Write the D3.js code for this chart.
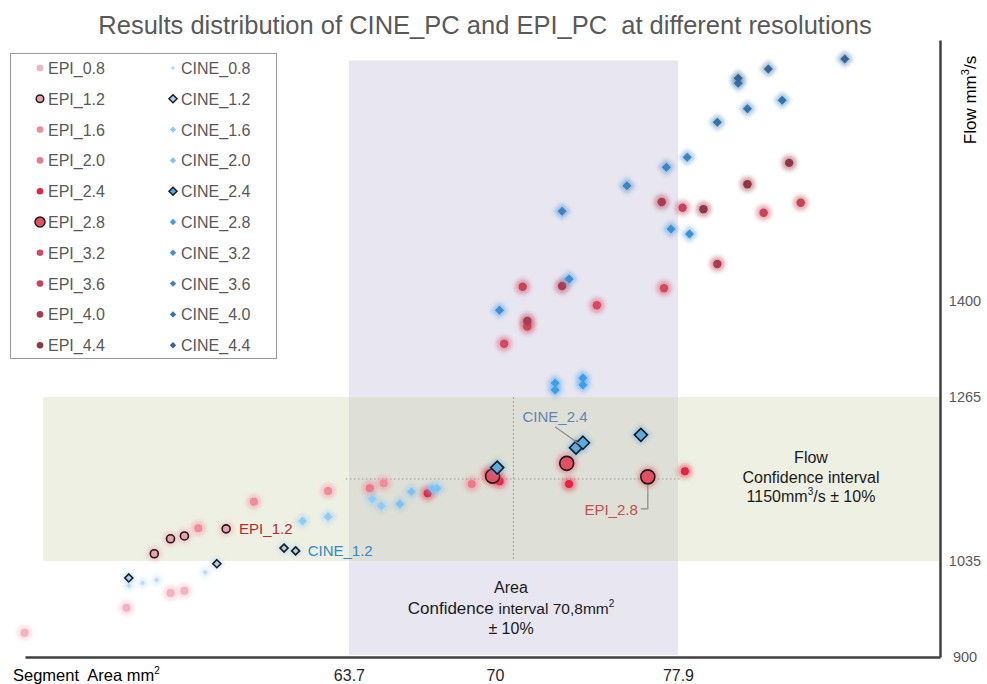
<!DOCTYPE html>
<html><head><meta charset="utf-8">
<script src="https://cdn.jsdelivr.net/npm/d3@7"></script>
<style>
body{margin:0;background:#fff;}
text{font-family:"Liberation Sans",Arial,sans-serif;}
</style></head>
<body><svg id="c" width="987" height="684"></svg>
<script>
// ---------- data ----------
const epiNames  = ["EPI_0.8","EPI_1.2","EPI_1.6","EPI_2.0","EPI_2.4","EPI_2.8","EPI_3.2","EPI_3.6","EPI_4.0","EPI_4.4"];
const cineNames = ["CINE_0.8","CINE_1.2","CINE_1.6","CINE_2.0","CINE_2.4","CINE_2.8","CINE_3.2","CINE_3.6","CINE_4.0","CINE_4.4"];

const epi08 = [[49.7,934],[54.1,969],[56.0,990],[56.6,993]];
const epi12 = [[55.3,1045],[56.0,1066],[56.6,1070],[58.4,1080]];
const epi16 = [[57.2,1081],[59.6,1118],[62.8,1133],[65.2,1144]];
const epi20 = [[64.6,1137],[69.0,1143],[69.7,1158]];
const epi24 = [[67.1,1130],[70.2,1147],[73.2,1143],[78.2,1161]];
const epi28 = [[69.9,1154],[73.1,1172],[76.6,1153]];
const epi32 = [[70.4,1340],[71.4,1364],[74.4,1394],[77.3,1418]];
const epi36 = [[78.1,1531],[81.6,1524],[83.2,1538],[71.2,1420]];
const epi40 = [[77.2,1539],[72.9,1421],[71.4,1372],[79.6,1452]];
const epi44 = [[79.0,1529],[80.9,1564],[82.7,1594]];

const cine08 = [[54.2,1000],[54.8,1004],[55.4,1008],[57.5,1019]];
const cine12 = [[54.2,1011],[58.0,1031],[60.9,1053],[61.4,1049]];
const cine16 = [[61.7,1091],[62.8,1097],[64.7,1122],[65.1,1112]];
const cine20 = [[65.9,1115],[66.4,1132],[67.3,1136],[67.5,1137]];
const cine24 = [[70.1,1166],[73.5,1194],[73.8,1201],[76.3,1212]];
const cine28 = [[72.6,1285],[72.6,1275],[73.8,1292],[73.8,1282]];
const cine32 = [[70.2,1387],[73.2,1431],[77.6,1501],[78.4,1494]];
const cine36 = [[72.9,1526],[75.7,1562],[77.4,1588],[78.3,1602]];
const cine40 = [[79.6,1651],[80.9,1670],[82.4,1682],[80.5,1706]];
const cine44 = [[80.5,1713],[81.8,1726],[85.1,1740]];

const epiData  = [epi08,epi12,epi16,epi20,epi24,epi28,epi32,epi36,epi40,epi44];
const cineData = [cine08,cine12,cine16,cine20,cine24,cine28,cine32,cine36,cine40,cine44];

const xTicks = [63.7, 70, 77.9];
const yTicks = [900, 1035, 1265, 1400];
const areaCenter = 70.8, areaLo = 63.7, areaHi = 77.9;
const flowCenter = 1150, flowLo = 1035, flowHi = 1265;

// ---------- styles ----------
const epiColors  = ["#f5b1be","#f29fad","#f28b9b","#ef7888","#e8213f","#e64f62","#d8475f","#c84358","#ae3a50","#963444"];
const cineColors = ["#b8ddf8","#a6d3f4","#8ecbf6","#7cc2f2","#58ace6","#3aa0ec","#3991da","#3784c6","#2f74ae","#33659a"];
const epiR   = [4,4,4,4,4,7,4.2,4.2,4.2,4.2];
const cineR  = [2.5,4,4.3,4.3,6.5,4.5,4.5,4.5,4.5,4.5];
const outlined = [false,true,false,false,false,true,false,false,false,false];
const cineOutlined = [false,true,false,false,true,false,false,false,false,false];

const svg = d3.select("#c");
const x = d3.scaleLinear().domain([49.72, 89.21]).range([25, 940]);
const y = d3.scaleLinear().domain([900, 1766.6]).range([657, 40]);

const defs = svg.append("defs");
const f = defs.append("filter").attr("id","blur").attr("x","-100%").attr("y","-100%").attr("width","300%").attr("height","300%");
f.append("feGaussianBlur").attr("stdDeviation",2);

// bands
const bandTop = 1738, bandLeft = 50.5;
svg.append("rect").attr("x",x(areaLo)).attr("y",y(bandTop)).attr("width",x(areaHi)-x(areaLo)).attr("height",y(900)-y(bandTop)-2).attr("fill","#e8e6f0");
svg.append("rect").attr("x",x(bandLeft)).attr("y",y(flowHi)).attr("width",x.range()[1]-x(bandLeft)).attr("height",y(flowLo)-y(flowHi)).attr("fill","#eef0e3");
svg.append("rect").attr("x",x(areaLo)).attr("y",y(flowHi)).attr("width",x(areaHi)-x(areaLo)).attr("height",y(flowLo)-y(flowHi)).attr("fill","#dedfd6");

// dotted guide lines
svg.append("line").attr("x1",x(areaLo)-3).attr("x2",x(areaHi)+2).attr("y1",y(flowCenter)).attr("y2",y(flowCenter))
  .attr("stroke","#9a9a9a").attr("stroke-width",1.2).attr("stroke-dasharray","1.5,2.5");
svg.append("line").attr("x1",x(areaCenter)).attr("x2",x(areaCenter)).attr("y1",y(flowHi)).attr("y2",y(flowLo))
  .attr("stroke","#9a9a9a").attr("stroke-width",1.2).attr("stroke-dasharray","1.5,2.5");

// axes
const gx = svg.append("g").attr("transform","translate(0,657)")
  .call(d3.axisBottom(x).tickValues(xTicks).tickSize(0).tickPadding(13).tickFormat(d=>String(d)));
gx.select(".domain").attr("stroke","#404040").attr("stroke-width",2.5);
gx.selectAll("text").attr("font-size",16).attr("fill","#262626").attr("font-family","Liberation Sans, Arial");
const gy = svg.append("g").attr("transform","translate(940,0)")
  .call(d3.axisRight(y).tickValues(yTicks).tickSize(0).tickPadding(25).tickFormat(d=>String(d)));
gy.select(".domain").attr("stroke","#404040").attr("stroke-width",2.5);
gy.selectAll("text").attr("font-size",14.5).attr("fill","#595959").attr("text-anchor","middle").attr("font-family","Liberation Sans, Arial");

// markers
const diamond = r => `M0,${-r}L${r},0L0,${r}L${-r},0Z`;
const pts = svg.append("g");
epiNames.forEach((n,i)=>{
  const g = pts.append("g");
  epiData[i].forEach(d=>{
    g.append("circle").attr("cx",x(d[0])).attr("cy",y(d[1])).attr("r",epiR[i]+3.4)
      .attr("fill",epiColors[i]).attr("opacity",0.45).attr("filter","url(#blur)");
  });
  epiData[i].forEach(d=>{
    g.append("circle").attr("cx",x(d[0])).attr("cy",y(d[1])).attr("r",epiR[i])
      .attr("fill",epiColors[i]).attr("stroke",outlined[i]?"#1a1a1a":"none").attr("stroke-width",outlined[i]?1.6:0);
  });
});
cineNames.forEach((n,i)=>{
  const g = pts.append("g");
  cineData[i].forEach(d=>{
    g.append("path").attr("transform",`translate(${x(d[0])},${y(d[1])})`).attr("d",diamond(cineR[i]+3.8))
      .attr("fill",cineColors[i]).attr("opacity",0.45).attr("filter","url(#blur)");
  });
  cineData[i].forEach(d=>{
    g.append("path").attr("transform",`translate(${x(d[0])},${y(d[1])})`).attr("d",diamond(cineR[i]))
      .attr("fill",cineColors[i]).attr("stroke",cineOutlined[i]?"#1a1a1a":"none").attr("stroke-width",cineOutlined[i]?1.6:0);
  });
});

// point labels
svg.append("text").attr("x",x(epi12[3][0])+13).attr("y",y(epi12[3][1])+5).attr("font-size",15).attr("fill","#c0272d").text("EPI_1.2");
svg.append("text").attr("x",x(cine12[3][0])+12).attr("y",y(cine12[3][1])+5).attr("font-size",15).attr("fill","#2e8bc4").text("CINE_1.2");
const c24 = [x(cine24[1][0]), y(cine24[1][1])];
svg.append("text").attr("x",c24[0]-21).attr("y",c24[1]-26).attr("text-anchor","middle").attr("font-size",15).attr("fill","#5f86b3").text("CINE_2.4");
svg.append("line").attr("x1",c24[0]-21).attr("y1",c24[1]-21).attr("x2",c24[0]+3).attr("y2",c24[1]-4).attr("stroke","#8c8c8c").attr("stroke-width",1.2);
const e28 = [x(epi28[2][0]), y(epi28[2][1])];
svg.append("text").attr("x",e28[0]-10).attr("y",e28[1]+38).attr("text-anchor","end").attr("font-size",15).attr("fill","#c0504d").text("EPI_2.8");
svg.append("path").attr("d",`M${e28[0]-7},${e28[1]+32}H${e28[0]}V${e28[1]+8}`).attr("fill","none").attr("stroke","#8c8c8c").attr("stroke-width",1.2);

// band annotations
const ac = 511;
svg.append("text").attr("x",ac).attr("y",593).attr("text-anchor","middle").attr("font-size",16).attr("fill","#1a1a1a").text("Area");
const t2 = svg.append("text").attr("x",ac).attr("y",614).attr("text-anchor","middle").attr("fill","#1a1a1a");
t2.append("tspan").attr("font-size",17).text("Confidence ");
t2.append("tspan").attr("font-size",15.5).text("interval 70,8mm");
t2.append("tspan").attr("font-size",10).attr("dy",-7).text("2");
svg.append("text").attr("x",ac).attr("y",634).attr("text-anchor","middle").attr("font-size",16).attr("fill","#1a1a1a").text("± 10%");

const fc = 811;
svg.append("text").attr("x",fc).attr("y",463).attr("text-anchor","middle").attr("font-size",16).attr("fill","#1a1a1a").text("Flow");
svg.append("text").attr("x",fc).attr("y",483).attr("text-anchor","middle").attr("font-size",16).attr("fill","#1a1a1a").text("Confidence interval");
const t3 = svg.append("text").attr("x",fc).attr("y",502).attr("text-anchor","middle").attr("font-size",16).attr("fill","#1a1a1a");
t3.append("tspan").text("1150mm");
t3.append("tspan").attr("font-size",10).attr("dy",-7).text("3");
t3.append("tspan").attr("dy",7).text("/s ± 10%");

// axis titles
const xt = svg.append("text").attr("x",13).attr("y",681).attr("font-size",16.5).attr("fill","#000");
xt.append("tspan").text("Segment\u00a0 Area mm");
xt.append("tspan").attr("font-size",10).attr("dy",-7).text("2");
const yt = svg.append("text").attr("transform","translate(976,100) rotate(-90)").attr("text-anchor","middle").attr("font-size",17).attr("fill","#000");
yt.append("tspan").text("Flow mm");
yt.append("tspan").attr("font-size",11).attr("dy",-7).text("3");
yt.append("tspan").attr("dy",7).text("/s");

// title
svg.append("text").attr("x",485).attr("y",34).attr("text-anchor","middle").attr("font-size",25.5).attr("fill","#595959")
  .text("Results distribution of CINE_PC and EPI_PC\u00a0 at different resolutions");

// legend
const lg = svg.append("g");
lg.append("rect").attr("x",10.5).attr("y",53.5).attr("width",266).attr("height",305).attr("fill","#fff").attr("stroke","#9a9a9a");
const rowY = i => 68 + i*30.8;
epiNames.forEach((n,i)=>{
  lg.append("circle").attr("cx",40).attr("cy",rowY(i)).attr("r",i===5?5:(i===1?3.8:3.3))
    .attr("fill",epiColors[i]).attr("stroke",outlined[i]?"#1a1a1a":"none").attr("stroke-width",1.5);
  lg.append("text").attr("x",48).attr("y",rowY(i)+6).attr("font-size",16).attr("fill","#595959").text(n);
});
cineNames.forEach((n,i)=>{
  const r = i===0?2.3:(cineOutlined[i]?4:3.2);
  lg.append("path").attr("transform",`translate(173,${rowY(i)})`).attr("d",diamond(r))
    .attr("fill",cineColors[i]).attr("stroke",cineOutlined[i]?"#1a1a1a":"none").attr("stroke-width",1.5);
  lg.append("text").attr("x",181).attr("y",rowY(i)+6).attr("font-size",16).attr("fill","#595959").text(n);
});
</script></body></html>
